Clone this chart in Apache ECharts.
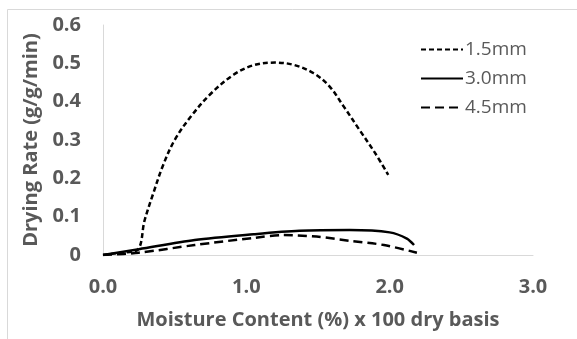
<!DOCTYPE html>
<html>
<head>
<meta charset="utf-8">
<script src="https://cdn.jsdelivr.net/npm/echarts@6/dist/echarts.min.js"></script>
<style>
    html, body { margin: 0; padding: 0; background: #fff; }
    #main { width: 577px; height: 339px; }
</style>
</head>
<body>
<div id="main"></div>
<script>
// 数据
const seriesNames = ['1.5mm', '3.0mm', '4.5mm'];

const x15 = [0.0, 0.12, 0.24, 0.29, 0.35, 0.42, 0.50, 0.61, 0.75, 0.91, 1.05, 1.20, 1.33, 1.47, 1.58, 1.68, 1.79, 1.90, 1.99];
const y15 = [0.0, 0.006, 0.013, 0.09, 0.16, 0.235, 0.30, 0.36, 0.42, 0.47, 0.495, 0.502, 0.496, 0.474, 0.44, 0.387, 0.326, 0.265, 0.209];

const x30 = [0.0, 0.25, 0.64, 1.05, 1.37, 1.72, 2.00, 2.12, 2.17];
const y30 = [0.0, 0.015, 0.039, 0.054, 0.063, 0.065, 0.059, 0.043, 0.026];

const x45 = [0.0, 0.25, 0.64, 1.06, 1.26, 1.49, 1.72, 1.96, 2.19];
const y45 = [0.0, 0.006, 0.026, 0.045, 0.052, 0.048, 0.037, 0.026, 0.006];

const xTicks = [0, 1, 2, 3];
const yTicks = [0, 0.1, 0.2, 0.3, 0.4, 0.5, 0.6];

function pairs(xs, ys) {
    return xs.map((x, i) => [x, ys[i]]);
}

const labelColor = '#595959';
const fontFamily = '"Open Sans", "Noto Sans", sans-serif';

let myChart = echarts.init(document.getElementById('main'), null, { renderer: 'canvas' });
myChart.setOption({
    backgroundColor: '#fff',
    animation: false,
    textStyle: { fontFamily: fontFamily },
    // 外框
    graphic: [{
        type: 'rect',
        shape: { x: 7.5, y: 9.5, width: 600, height: 400 },
        style: { fill: 'none', stroke: '#d9d9d9', lineWidth: 1 },
        z: -1
    }],
    grid: { left: 103, right: 44, top: 25, bottom: 84 },
    legend: {
        orient: 'vertical',
        left: 415,
        top: 35,
        itemWidth: 42,
        itemHeight: 14,
        itemGap: 10,
        data: seriesNames,
        itemStyle: { opacity: 0 },
        textStyle: { color: labelColor, fontSize: 19, fontFamily: fontFamily, padding: [0, 0, 0, -3] }
    },
    xAxis: {
        type: 'value',
        min: xTicks[0],
        max: xTicks[xTicks.length - 1],
        interval: 1,
        name: 'Moisture Content (%) x 100 dry basis',
        nameLocation: 'middle',
        nameGap: 55,
        nameTextStyle: { color: labelColor, fontSize: 20, fontWeight: 'bold', fontFamily: fontFamily },
        axisLine: { show: true, lineStyle: { color: '#d9d9d9', width: 1 } },
        axisTick: { show: false },
        splitLine: { show: false },
        axisLabel: {
            color: labelColor,
            fontSize: 20,
            fontWeight: 'bold',
            margin: 22,
            formatter: v => v.toFixed(1)
        }
    },
    yAxis: {
        type: 'value',
        min: yTicks[0],
        max: yTicks[yTicks.length - 1],
        interval: 0.1,
        name: 'Drying Rate (g/g/min)',
        nameLocation: 'middle',
        nameGap: 61,
        nameTextStyle: { color: labelColor, fontSize: 20, fontWeight: 'bold', fontFamily: fontFamily },
        axisLine: { show: true, lineStyle: { color: '#d9d9d9', width: 1 } },
        axisTick: { show: false },
        splitLine: { show: false },
        axisLabel: {
            color: labelColor,
            fontSize: 20,
            fontWeight: 'bold',
            margin: 22,
            formatter: v => (v === 0 ? '0' : v.toFixed(1))
        }
    },
    series: [{
        name: seriesNames[0],
        type: 'line',
        smooth: 0.35,
        symbol: 'none',
        data: pairs(x15, y15),
        lineStyle: { color: '#000', width: 2.5, type: [5, 3] },
        itemStyle: { color: '#000' }
    }, {
        name: seriesNames[1],
        type: 'line',
        smooth: 0.3,
        symbol: 'none',
        data: pairs(x30, y30),
        lineStyle: { color: '#000', width: 2.5, type: 'solid' },
        itemStyle: { color: '#000' }
    }, {
        name: seriesNames[2],
        type: 'line',
        smooth: 0.3,
        symbol: 'none',
        data: pairs(x45, y45),
        lineStyle: { color: '#000', width: 2.5, type: [9, 5] },
        itemStyle: { color: '#000' }
    }]
});
</script>
</body>
</html>
